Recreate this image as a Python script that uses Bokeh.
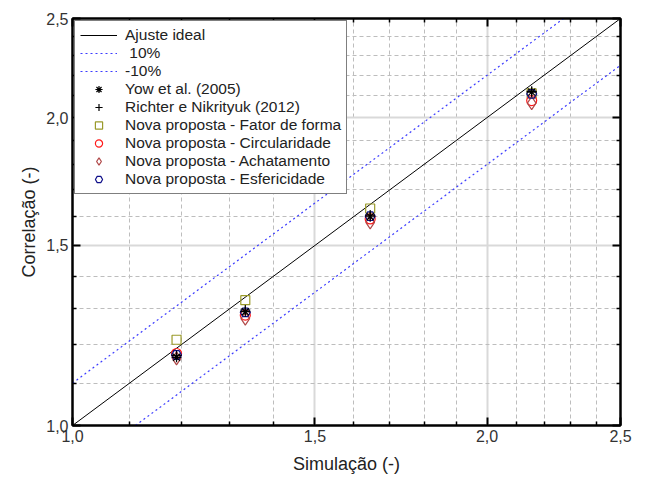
from bokeh.plotting import figure
from bokeh.models import (FixedTicker, CustomJSTickFormatter, LogAxis, Legend, LegendItem)
from bokeh.embed import file_html
from bokeh.resources import INLINE

# ---- data ----
sim_x = [1.19, 1.335, 1.645, 2.155]
yow = [1.166, 1.292, 1.600, 2.118]
richter = [1.171, 1.297, 1.606, 2.122]
fator_forma = [1.213, 1.326, 1.630, 2.112]
circularidade = [1.176, 1.282, 1.592, 2.078]
achatamento = [1.163, 1.272, 1.580, 2.066]
esfericidade = [1.172, 1.290, 1.602, 2.110]

ideal_x = [1.0, 2.5]
ideal_y = [1.0, 2.5]
up_x = [1.0, 2.5 / 1.1]
up_y = [1.1, 2.5]
lo_x = [1.0 / 0.9, 2.5]
lo_y = [1.0, 2.25]

major_ticks = [1.0, 1.5, 2.0, 2.5]
minor_ticks = [1.1, 1.2, 1.3, 1.4, 1.6, 1.7, 1.8, 1.9, 2.1, 2.2, 2.3, 2.4]

FONT = "Liberation Sans"

p = figure(width=636, height=481, x_axis_type="log", y_axis_type="log",
           x_range=(1.0, 2.5), y_range=(1.0, 2.5),
           output_backend="svg", toolbar_location=None,
           min_border_left=72, min_border_right=16, min_border_top=18, min_border_bottom=56)

p.background_fill_color = "white"
p.outline_line_color = "black"
p.outline_line_width = 2

fmt = CustomJSTickFormatter(code="return tick.toFixed(1).replace('.', ',');")

for ax in (p.xaxis[0], p.yaxis[0]):
    ax.ticker = FixedTicker(ticks=major_ticks, minor_ticks=minor_ticks)
    ax.formatter = fmt
    ax.major_tick_in = 8
    ax.major_tick_out = 0
    ax.minor_tick_in = 4
    ax.minor_tick_out = 0
    ax.axis_line_width = 2
    ax.axis_line_color = "black"
    ax.major_tick_line_width = 2
    ax.minor_tick_line_width = 1.5
    ax.major_label_text_font = FONT
    ax.major_label_text_font_size = "16px"
    ax.major_label_text_color = "#333333"
    ax.axis_label_text_font = FONT
    ax.axis_label_text_font_size = "18px"
    ax.axis_label_text_font_style = "normal"
    ax.axis_label_text_color = "#222222"
    ax.major_label_standoff = 4

p.xaxis.axis_label = "Simulação (-)"
p.yaxis.axis_label = "Correlação (-)"
p.xaxis.axis_label_standoff = 9
p.yaxis.axis_label_standoff = 4

for loc in ("above", "right"):
    ax = LogAxis(ticker=FixedTicker(ticks=major_ticks, minor_ticks=minor_ticks),
                 formatter=CustomJSTickFormatter(code="return '';"))
    ax.major_tick_in = 8
    ax.major_tick_out = 0
    ax.minor_tick_in = 4
    ax.minor_tick_out = 0
    ax.axis_line_width = 2
    ax.major_tick_line_width = 2
    ax.minor_tick_line_width = 1.5
    ax.major_label_standoff = 0
    p.add_layout(ax, loc)

for g in (p.xgrid[0], p.ygrid[0]):
    g.ticker = FixedTicker(ticks=major_ticks, minor_ticks=minor_ticks)
    g.grid_line_color = "#d9d9d9"
    g.grid_line_width = 2
    g.minor_grid_line_color = "#bdbdbd"
    g.minor_grid_line_dash = "4 3"
    g.minor_grid_line_width = 1

r_ideal = p.line(ideal_x, ideal_y, line_color="black", line_width=1)
r_up = p.line(up_x, up_y, line_color="#3b3bff", line_width=1.2, line_dash="2 3")
r_lo = p.line(lo_x, lo_y, line_color="#3b3bff", line_width=1.2, line_dash="2 3")

r_ff = p.scatter(sim_x, fator_forma, marker="square", size=9, fill_color=None,
                 line_color="#9a9a2a", line_width=1.2)
r_ci = p.scatter(sim_x, circularidade, marker="circle", size=10, fill_color=None,
                 line_color="#ff1a1a", line_width=1.2)
r_ac = p.scatter(sim_x, achatamento, marker="diamond", size=13, fill_color=None,
                 line_color="#b04848", line_width=1.2)
r_es = p.scatter(sim_x, esfericidade, marker="hex", size=10, fill_color=None,
                 line_color="#10108a", line_width=1.2)
r_yow = p.scatter(sim_x, yow, marker="asterisk", size=10, line_color="black", line_width=1.2)
r_ri = p.scatter(sim_x, richter, marker="cross", size=10, line_color="black", line_width=1.2)

legend = Legend(items=[
    LegendItem(label="Ajuste ideal", renderers=[r_ideal]),
    LegendItem(label=" 10%", renderers=[r_up]),
    LegendItem(label="-10%", renderers=[r_lo]),
    LegendItem(label="Yow et al. (2005)", renderers=[r_yow]),
    LegendItem(label="Richter e Nikrityuk (2012)", renderers=[r_ri]),
    LegendItem(label="Nova proposta - Fator de forma", renderers=[r_ff]),
    LegendItem(label="Nova proposta - Circularidade", renderers=[r_ci]),
    LegendItem(label="Nova proposta - Achatamento", renderers=[r_ac]),
    LegendItem(label="Nova proposta - Esfericidade", renderers=[r_es]),
], location="top_left")
legend.margin = 2
legend.padding = 5
legend.spacing = 0
legend.glyph_width = 37
legend.glyph_height = 18
legend.label_height = 18
legend.label_standoff = 8
legend.label_text_font = FONT
legend.label_text_font_size = "15.5px"
legend.label_text_color = "#222222"
legend.border_line_color = "black"
legend.border_line_width = 1
legend.background_fill_color = "white"
legend.background_fill_alpha = 1.0
p.add_layout(legend, "center")

open("out.html", "w").write(file_html(p, INLINE))
